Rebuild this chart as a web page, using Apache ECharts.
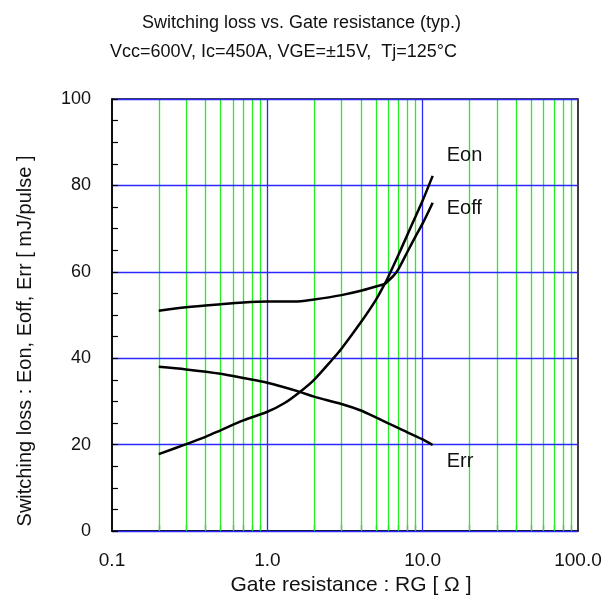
<!DOCTYPE html>
<html>
<head>
<meta charset="utf-8">
<script src="https://cdn.jsdelivr.net/npm/echarts@6/dist/echarts.min.js"></script>
<style>
html,body{margin:0;padding:0;background:#fff;}
#chart{width:603px;height:596px;}
</style>
</head>
<body>
<div id="chart"></div>
<script>
// ---- data ----
const titleLine1 = 'Switching loss vs. Gate resistance (typ.)';
const titleLine2 = 'Vcc=600V, Ic=450A, VGE=\u00b115V,  Tj=125\u00b0C';
const xAxisName = 'Gate resistance : RG [ \u03a9 ]';
const yAxisName = 'Switching loss : Eon, Eoff, Err [ mJ/pulse ]';

const xTickValues = [0.1, 1, 10, 100];
const xTickLabels = ['0.1', '1.0', '10.0', '100.0'];
const minorGridRg = [0.2,0.3,0.4,0.5,0.6,0.7,0.8,0.9, 2,3,4,5,6,7,8,9, 20,30,40,50,60,70,80,90];

const eonRg  = [0.2, 0.3, 0.4, 0.5, 0.7, 1.0, 1.3, 1.62, 2.0, 2.62, 3.0, 4.0, 5.0, 5.7, 6.0, 7.0, 8.0, 9.0, 10.0, 11.6];
const eonVal = [17.8, 20.1, 21.8, 23.3, 25.6, 27.6, 29.7, 32.2, 35.0, 39.7, 42.2, 48.3, 53.5, 57.2, 58.8, 64.0, 68.7, 72.8, 76.5, 82.2];

const eoffRg  = [0.2, 0.3, 0.5, 0.7, 1.0, 1.5, 2.0, 3.0, 4.0, 5.0, 5.7, 6.0, 6.5, 7.0, 8.0, 9.0, 10.0, 11.6];
const eoffVal = [51.0, 51.8, 52.5, 52.9, 53.1, 53.1, 53.6, 54.6, 55.6, 56.6, 57.2, 57.9, 59.1, 60.7, 64.7, 68.2, 71.2, 76.0];

const errRg  = [0.2, 0.3, 0.5, 0.7, 1.0, 1.62, 2.0, 3.0, 4.0, 5.0, 7.0, 10.0, 11.6];
const errVal = [38.0, 37.4, 36.4, 35.4, 34.3, 32.2, 31.1, 29.4, 27.9, 26.3, 23.8, 21.2, 19.9];

const seriesNames = ['Eon', 'Eoff', 'Err'];

function pairs(xs, ys) { return xs.map((x, i) => [x, ys[i]]); }

const chart = echarts.init(document.getElementById('chart'), null, {renderer: 'canvas'});
const FONT = 'Liberation Sans, Arial, sans-serif';
const GREEN = '#22ee22';
const BLUE = '#2a2aff';

const lineBase = {
  type: 'line',
  showSymbol: false,
  symbol: 'none',
  smooth: 0.3,
  z: 5,
  lineStyle: {color: '#000', width: 2.5},
  emphasis: {disabled: true},
  silent: true
};

const option = {
  animation: false,
  backgroundColor: '#fff',
  title: [
    {text: titleLine1, left: 142, top: 14, padding: 0,
     textStyle: {fontFamily: FONT, fontSize: 18, fontWeight: 'normal', color: '#111'}},
    {text: titleLine2, left: 110, top: 43, padding: 0,
     textStyle: {fontFamily: FONT, fontSize: 18, fontWeight: 'normal', color: '#111'}}
  ],
  grid: {left: 112, top: 99, right: 25, bottom: 65, show: true,
         containLabel: false, outerBoundsMode: 'none',
         borderColor: '#000', borderWidth: 1.5, backgroundColor: 'transparent'},
  xAxis: {
    type: 'log', logBase: 10, min: 0.1, max: 100,
    z: 0,
    axisLine: {show: true, lineStyle: {color: '#000', width: 1.5}},
    axisTick: {show: true, inside: true, length: 6, customValues: minorGridRg,
               lineStyle: {color: '#000', width: 1.2}},
    axisLabel: {show: true, customValues: xTickValues, margin: 20,
      fontFamily: FONT, fontSize: 19, color: '#111',
      formatter: v => { const i = xTickValues.findIndex(t => Math.abs(t - v) < 1e-9 * Math.max(1, t)); return i >= 0 ? xTickLabels[i] : ''; }},
    splitLine: {show: false},
    minorTick: {show: false},
    name: xAxisName, nameLocation: 'middle', nameGap: 41,
    nameTextStyle: {fontFamily: FONT, fontSize: 21, color: '#111', padding: [0, 0, 0, 12]}
  },
  yAxis: {
    type: 'value', min: 0, max: 100, interval: 20,
    z: 3,
    axisLine: {show: true, lineStyle: {color: '#000', width: 1.5}},
    axisTick: {show: true, inside: true, length: 6, lineStyle: {color: '#000', width: 1.2}},
    minorTick: {show: true, splitNumber: 4, length: 6, lineStyle: {color: '#000', width: 1.2}},
    axisLabel: {margin: 21, fontFamily: FONT, fontSize: 18, color: '#111'},
    splitLine: {show: true, lineStyle: {color: BLUE, width: 1.3}},
    name: yAxisName, nameLocation: 'middle', nameGap: 77,
    nameTextStyle: {fontFamily: FONT, fontSize: 20, color: '#111', padding: [0, 52, 0, 0]}
  },
  series: [
    Object.assign({}, lineBase, {
      name: seriesNames[0], data: pairs(eonRg, eonVal),
      endLabel: {show: true, formatter: '{a}', distance: 0, offset: [14, -20],
                 fontFamily: FONT, fontSize: 20, color: '#111'},
      markLine: {
        silent: true, symbol: 'none', z: 1, animation: false,
        label: {show: false},
        lineStyle: {color: GREEN, width: 1.3, type: 'solid'},
        emphasis: {disabled: true},
        data: minorGridRg.map(v => ({xAxis: v}))
      }
    }),
    Object.assign({}, lineBase, {
      name: seriesNames[1], data: pairs(eoffRg, eoffVal),
      endLabel: {show: true, formatter: '{a}', distance: 0, offset: [14, 6],
                 fontFamily: FONT, fontSize: 20, color: '#111'}
    }),
    Object.assign({}, lineBase, {
      name: seriesNames[2], data: pairs(errRg, errVal),
      endLabel: {show: true, formatter: '{a}', distance: 0, offset: [14, 16],
                 fontFamily: FONT, fontSize: 20, color: '#111'}
    }),
    {
      type: 'line', name: 'vgrid', data: [], silent: true,
      markLine: {
        silent: true, symbol: 'none', z: 1, animation: false,
        label: {show: false},
        lineStyle: {color: BLUE, width: 1.3, type: 'solid'},
        emphasis: {disabled: true},
        data: [1, 10].map(v => ({xAxis: v}))
      }
    }
  ]
};
chart.setOption(option);
</script>
</body>
</html>
